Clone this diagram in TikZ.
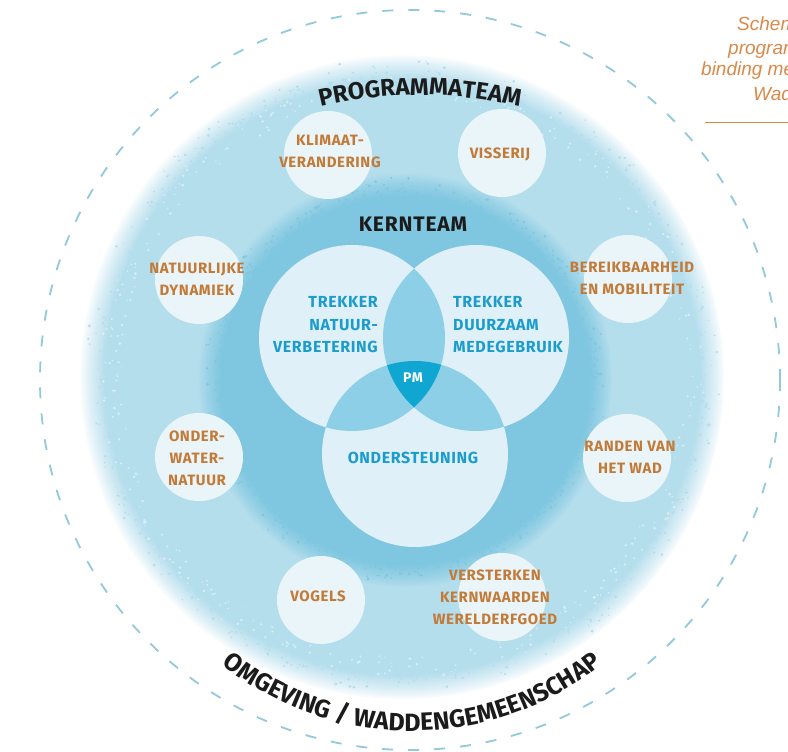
\documentclass[tikz,border=0pt]{standalone}
\usepackage{fontspec}
\setmainfont{Fira Sans}
\newfontfamily\dispfont[LetterSpace=4]{Fira Sans}
\newfontfamily\capfont{Liberation Sans}
\usetikzlibrary{decorations.text,fadings}
\definecolor{dashblue}{HTML}{92C9DC}
\definecolor{lightdisc}{HTML}{B5DEED}
\definecolor{darkdisc}{HTML}{7FC7E0}
\definecolor{vpale}{HTML}{DFF0F8}
\definecolor{lens}{HTML}{8DCFE6}
\definecolor{pmblue}{HTML}{0FA6D2}
\definecolor{themefill}{HTML}{EAF5FA}
\definecolor{orangetext}{HTML}{C27A36}
\definecolor{bluetext}{HTML}{1B9CCD}
\definecolor{ink}{HTML}{1B1B1B}
\definecolor{caporange}{HTML}{D98A4A}
\pgfdeclareradialshading{lightedgeshade}{\pgfpointorigin}{color(0bp)=(pgftransparent!0); color(23bp)=(pgftransparent!0); color(24.2bp)=(pgftransparent!55); color(25bp)=(pgftransparent!100); color(50bp)=(pgftransparent!100)}
\pgfdeclarefading{lightedgefade}{\pgfuseshading{lightedgeshade}}
\pgfdeclareradialshading{darkedgeshade}{\pgfpointorigin}{color(0bp)=(pgftransparent!0); color(22.2bp)=(pgftransparent!0); color(23.8bp)=(pgftransparent!50); color(25bp)=(pgftransparent!100); color(50bp)=(pgftransparent!100)}
\pgfdeclarefading{darkedgefade}{\pgfuseshading{darkedgeshade}}
\newcommand\arcfont{\fontsize{24}{24}\selectfont\bfseries}
\newcommand\arcfontb{\fontsize{25}{25}\selectfont\bfseries}
\begin{document}
\begin{tikzpicture}[x=1pt,y=1pt,
  themecircle/.style={circle,fill=themefill,minimum size=88pt,inner sep=0pt},
  themetext/.style={text=orangetext,font=\dispfont\bfseries\fontsize{15}{22}\selectfont,align=center,inner sep=0pt},
  venntext/.style={text=bluetext,font=\dispfont\bfseries\fontsize{16}{22.5}\selectfont,inner sep=0pt},
  captext/.style={text=caporange,font=\capfont\itshape\fontsize{19}{19}\selectfont,inner sep=0pt,anchor=base west}]
\useasboundingbox (0,0) rectangle (788,752);
\clip (0,0) rectangle (788,752);
\fill[white] (0,0) rectangle (788,752);

% --- programmateam disc (light) with speckled edge
\coordinate (pc) at (402,375);
\fill[lightdisc,path fading=lightedgefade] (pc) circle (322);
\pgfmathsetseed{11}
\foreach \i in {1,...,700}{
  \pgfmathsetmacro\ang{360*rnd}
  \pgfmathsetmacro\rad{296+24*rnd*rnd}
  \pgfmathsetmacro\sz{0.6+1.0*rnd}
  \fill[lightdisc,shift={(pc)}] (\ang:\rad) circle (\sz);
}
\foreach \i in {1,...,350}{
  \pgfmathsetmacro\ang{360*rnd}
  \pgfmathsetmacro\rad{280+22*rnd}
  \pgfmathsetmacro\sz{0.6+0.8*rnd}
  \fill[white,opacity=0.5,shift={(pc)}] (\ang:\rad) circle (\sz);
}

% --- kernteam disc (darker) with speckled edge
\coordinate (kc) at (405,372);
\fill[darkdisc,path fading=darkedgefade] (kc) circle (207);
\foreach \i in {1,...,500}{
  \pgfmathsetmacro\ang{360*rnd}
  \pgfmathsetmacro\rad{186+20*rnd*rnd}
  \pgfmathsetmacro\sz{0.6+1.0*rnd}
  \fill[darkdisc,shift={(kc)}] (\ang:\rad) circle (\sz);
}

% --- outer dashed circle
\draw[dashblue,line width=1.8pt,dash pattern=on 11pt off 15pt] (410,372) circle (370);

% --- theme circles
\node[themecircle] (cklimaat) at (328,597) {};
\node[themecircle] (cvisserij) at (502,599) {};
\node[themecircle] (cnatuur) at (199,472) {};
\node[themecircle] (cbereik) at (628,473) {};
\node[themecircle] (conder) at (199,295) {};
\node[themecircle] (crand) at (627,294) {};
\node[themecircle] (cvogels) at (321,152) {};
\node[themecircle] (cverst) at (502,155) {};

\node[themetext] (tklimaat) at (330,601) {KLIMAAT-\\VERANDERING};
\node[themetext] (tvisserij) at (500,598) {VISSERIJ};
\node[themetext] (tnatuur) at (197,473) {NATUURLIJKE\\DYNAMIEK};
\node[themetext] (tbereik) at (632,474) {BEREIKBAARHEID\\EN MOBILITEIT};
\node[themetext] (tonder) at (197,294) {ONDER-\\WATER-\\NATUUR};
\node[themetext] (trand) at (630,294.5) {RANDEN VAN\\HET WAD};
\node[themetext] (tvogels) at (318,156) {VOGELS};
\node[themetext] (tverst) at (495,155) {VERSTERKEN\\KERNWAARDEN\\WERELDERFGOED};

% --- Venn diagram
\fill[vpale] (352,414) circle (93);
\fill[vpale] (476,414) circle (93);
\fill[vpale] (415,298) circle (93);
\begin{scope}
  \clip (352,414) circle (93);
  \fill[lens] (476,414) circle (93);
  \fill[lens] (415,298) circle (93);
\end{scope}
\begin{scope}
  \clip (476,414) circle (93);
  \fill[lens] (415,298) circle (93);
\end{scope}
\begin{scope}
  \clip (352,414) circle (93);
  \clip (476,414) circle (93);
  \fill[pmblue] (415,298) circle (93);
\end{scope}

\node[text=ink,font=\dispfont\bfseries\fontsize{21}{21}\selectfont,inner sep=0pt] (kern) at (413,528) {KERNTEAM};
\node[venntext,align=right,anchor=east] (tleft) at (378,427) {TREKKER\\NATUUR-\\VERBETERING};
\node[venntext,align=left,anchor=west] (tright) at (453,427) {TREKKER\\DUURZAAM\\MEDEGEBRUIK};
\node[venntext] (tonderst) at (413,294) {ONDERSTEUNING};
\node[text=white,font=\dispfont\bfseries\fontsize{14}{14}\selectfont,inner sep=0pt] (pm) at (413,374) {PM};

% --- arc texts
\path[decorate,decoration={text along path,text align=center,text color=ink,
  text={|\arcfont|PROGRAMMATEAM}}]
  (420,237) ++(110:420) arc[start angle=110,end angle=70,radius=420];
\path[decorate,decoration={text along path,text align=center,text color=ink,
  text={|\arcfontb|OMGEVING / WADDENGEMEENSCHAP}}]
  (412,326) ++(224:305) arc[start angle=224,end angle=316,radius=305];

% --- caption (cut at the right edge)
\node[captext] (cap1) at (737,721) {Schem};
\node[captext] (cap2) at (728,697) {program};
\node[captext] (cap3) at (701,676) {binding me};
\node[captext] (cap4) at (753,651) {Wad};
\coordinate (ruleA) at (705,629);
\coordinate (ruleB) at (790,629);
\draw[caporange,line width=1pt] (ruleA) -- (ruleB);
\end{tikzpicture}
\end{document}
